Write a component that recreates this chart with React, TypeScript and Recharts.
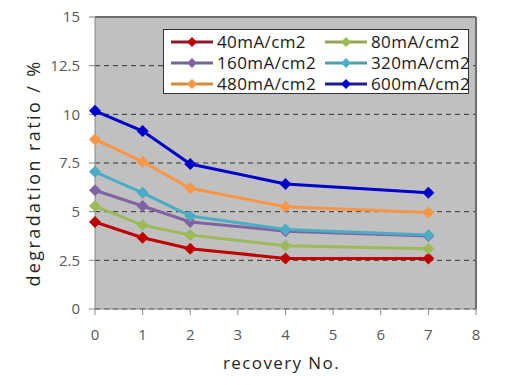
import { LineChart, Line, XAxis, YAxis, CartesianGrid, Legend, ReferenceLine } from 'recharts';

const recovery = [0, 1, 2, 4, 7];
const seriesNames = ['40mA/cm2', '80mA/cm2', '160mA/cm2', '320mA/cm2', '480mA/cm2', '600mA/cm2'];
const ma40 = [4.47, 3.66, 3.1, 2.6, 2.6];
const ma80 = [5.29, 4.31, 3.8, 3.25, 3.1];
const ma160 = [6.1, 5.29, 4.47, 4.0, 3.75];
const ma320 = [7.05, 5.97, 4.78, 4.09, 3.8];
const ma480 = [8.71, 7.57, 6.2, 5.25, 4.96];
const ma600 = [10.18, 9.14, 7.45, 6.42, 5.97];
const xTicks = [0, 1, 2, 3, 4, 5, 6, 7, 8];
const yTicks = [0, 2.5, 5, 7.5, 10, 12.5, 15];

const COLORS = ['#c00000', '#9bbb59', '#8064a2', '#4bacc6', '#f79646', '#0000cc'];
const LEGEND_COLORS = ['#8b1a2a', '#9aa552', '#6e6a94', '#4e9fae', '#d08d3e', '#1c1c94'];
const FONT = '"Open Sans", sans-serif';

const allSeries = [ma40, ma80, ma160, ma320, ma480, ma600];
const chartData = recovery.map((r, i) => {
    const row: Record<string, number> = { x: r };
    seriesNames.forEach((name, s) => {
        row[name] = allSeries[s][i];
    });
    return row;
});

function Diamond(props: any) {
    const { cx, cy, fill } = props;
    if (cx == null || cy == null) return null;
    const r = 6;
    return (
        <polygon
            points={`${cx},${cy - r} ${cx + r},${cy} ${cx},${cy + r} ${cx - r},${cy}`}
            fill={fill}
        />
    );
}

function LegendBox() {
    return (
        <div
            style={{
                display: 'grid',
                gridTemplateColumns: '154px 140px',
                background: '#fff',
                border: '1.5px solid #333',
                padding: '1px 0 0 6px',
                boxSizing: 'border-box',
                width: 306,
                height: 65,
                fontFamily: FONT,
                fontSize: 17,
                letterSpacing: 0.4,
                color: '#1a1a1a',
            }}
        >
            {seriesNames.map((name, i) => (
                <div key={name} style={{ display: 'flex', alignItems: 'center', height: 21 }}>
                    <svg width={47} height={14} style={{ flex: 'none' }}>
                        <line x1={1} y1={7} x2={43} y2={7} stroke={LEGEND_COLORS[i]} strokeWidth={3} />
                        <polygon points="22,2 27,7 22,12 17,7" fill={COLORS[i]} />
                    </svg>
                    <span style={{ lineHeight: '21px' }}>{name}</span>
                </div>
            ))}
        </div>
    );
}

export default function App() {
    return (
        <div style={{ position: 'absolute', left: 0, top: 0, width: 516, height: 385, background: '#fff' }}>
            <LineChart
                width={516}
                height={385}
                data={chartData}
                margin={{ top: 17, right: 40, left: 0, bottom: 42 }}
            >
                <CartesianGrid
                    vertical={false}
                    stroke="#333"
                    strokeDasharray="5 4"
                    fill="#c0c0c0"
                    fillOpacity={1}
                />
                <XAxis
                    dataKey="x"
                    type="number"
                    domain={[0, 8]}
                    ticks={xTicks}
                    height={34}
                    stroke="#888"
                    tickSize={6}
                    tickMargin={14}
                    tick={{ fill: '#595959', fontSize: 15, fontFamily: FONT }}
                    label={{
                        value: 'recovery No.',
                        position: 'insideBottom',
                        offset: -26,
                        dx: -4,
                        fill: '#262626',
                        fontSize: 17,
                        fontFamily: FONT,
                        letterSpacing: 1.4,
                    }}
                />
                <YAxis
                    type="number"
                    domain={[0, 15]}
                    ticks={yTicks}
                    width={95}
                    stroke="#888"
                    tickSize={6}
                    tickMargin={9}
                    tick={{ fill: '#595959', fontSize: 15, fontFamily: FONT }}
                    label={{
                        value: 'degradation ratio / %',
                        angle: -90,
                        position: 'insideLeft',
                        offset: 34,
                        dy: 10,
                        style: { textAnchor: 'middle' },
                        fill: '#262626',
                        fontSize: 18,
                        fontFamily: FONT,
                        letterSpacing: 2.4,
                    }}
                />
                <ReferenceLine y={15} stroke="#6e6e6e" strokeWidth={2} />
                <ReferenceLine x={8} stroke="#6e6e6e" strokeWidth={2} />
                {seriesNames.map((name, i) => (
                    <Line
                        key={name}
                        dataKey={name}
                        stroke={COLORS[i]}
                        strokeWidth={3}
                        dot={<Diamond fill={COLORS[i]} />}
                        activeDot={false}
                        isAnimationActive={false}
                    />
                ))}
                <Legend
                    layout="vertical"
                    align="center"
                    verticalAlign="middle"
                    content={() => <LegendBox />}
                    wrapperStyle={{ left: 163, top: 29, width: 306, height: 65 }}
                />
            </LineChart>
        </div>
    );
}
